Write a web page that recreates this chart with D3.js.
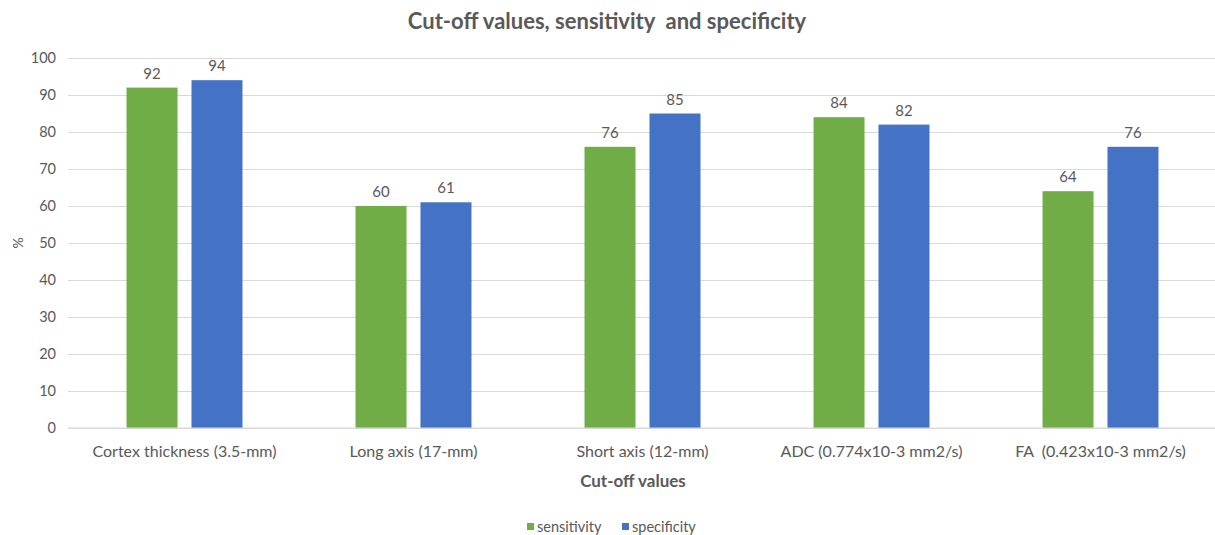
<!DOCTYPE html>
<html>
<head>
<meta charset="utf-8">
<script src="https://cdn.jsdelivr.net/npm/d3@7"></script>
<style>
  html, body { margin: 0; padding: 0; background: #fff; }
  svg { display: block; font-family: Lato, "Open Sans", sans-serif; }
</style>
</head>
<body>
<svg id="chart" width="1215" height="535"></svg>
<script>
const categories = [
  "Cortex thickness (3.5-mm)",
  "Long axis (17-mm)",
  "Short axis (12-mm)",
  "ADC (0.774x10-3 mm2/s)",
  "FA  (0.423x10-3 mm2/s)"
];
const sensitivity = [92, 60, 76, 84, 64];
const specificity = [94, 61, 85, 82, 76];
const seriesNames = ["sensitivity", "specificity"];
const seriesColors = ["#70AD47", "#4472C4"];
const yTicks = [0, 10, 20, 30, 40, 50, 60, 70, 80, 90, 100];

const svg = d3.select("#chart");
const margin = { left: 70, right: 0, top: 58, bottom: 107 };
const W = 1215, H = 535;
const textColor = "#595959";

const x = d3.scaleBand().domain(categories).range([margin.left, W - margin.right]);
const xs = d3.scaleBand().domain(seriesNames).range([0, x.bandwidth()]).paddingInner(0.215).paddingOuter(0.87);
const y = d3.scaleLinear().domain([0, 100]).range([H - margin.bottom, margin.top]);

// horizontal gridlines with tick labels
const yAxis = d3.axisLeft(y).tickValues(yTicks).tickSize(-(W - margin.left + 2)).tickPadding(12);
const gy = svg.append("g").attr("transform", `translate(${margin.left - 2},0)`).call(yAxis);
gy.select(".domain").remove();
gy.selectAll(".tick line").attr("stroke", "#d9d9d9").attr("stroke-width", 1);
gy.selectAll(".tick text").attr("fill", textColor).attr("font-size", 14.5).attr("font-family", "Lato, sans-serif");

// grouped bars
const rows = categories.map((c, i) => ({ cat: c, values: [sensitivity[i], specificity[i]] }));
const groups = svg.append("g").selectAll("g").data(rows).join("g")
  .attr("transform", d => `translate(${x(d.cat)},0)`);
const cells = d => d.values.map((v, j) => ({ s: seriesNames[j], v, j }));
groups.selectAll("rect").data(cells).join("rect")
  .attr("x", d => xs(d.s))
  .attr("width", xs.bandwidth())
  .attr("y", d => y(d.v))
  .attr("height", d => y(0) - y(d.v))
  .attr("fill", d => seriesColors[d.j]);
groups.selectAll("text").data(cells).join("text")
  .attr("x", d => xs(d.s) + xs.bandwidth() / 2)
  .attr("y", d => y(d.v) - 9)
  .attr("text-anchor", "middle")
  .attr("fill", textColor)
  .attr("font-size", 15)
  .text(d => d.v);

// x axis baseline and category labels
const xAxis = d3.axisBottom(x).tickSize(0).tickPadding(18);
const gx = svg.append("g").attr("transform", `translate(0,${y(0)})`).call(xAxis);
gx.select(".domain").attr("stroke", "#d9d9d9").attr("d", `M${margin.left - 2},0H${W}`);
gx.selectAll(".tick text").attr("fill", textColor).attr("font-size", 16).attr("font-family", "Lato, sans-serif").style("white-space", "pre");

// title
svg.append("text").attr("x", 607).attr("y", 29).attr("text-anchor", "middle")
  .attr("fill", textColor).attr("font-size", 22).attr("font-weight", "bold")
  .style("white-space", "pre")
  .text("Cut-off values, sensitivity  and specificity");

// axis titles
svg.append("text").attr("x", 633).attr("y", 487).attr("text-anchor", "middle")
  .attr("fill", textColor).attr("font-size", 17).attr("font-weight", "bold")
  .text("Cut-off values");
svg.append("text").attr("transform", "translate(23,243) rotate(-90)").attr("text-anchor", "middle")
  .attr("fill", textColor).attr("font-size", 14).text("%");

// legend
const legend = svg.append("g").attr("transform", "translate(527,527)");
const items = legend.selectAll("g").data(seriesNames).join("g")
  .attr("transform", (d, i) => `translate(${i * 95},0)`);
items.append("rect").attr("x", 0).attr("y", -4).attr("width", 7).attr("height", 7)
  .attr("fill", (d, i) => seriesColors[i]);
items.append("text").attr("x", 10).attr("y", 5).attr("fill", textColor)
  .attr("font-size", 14.5).text(d => d);
</script>
</body>
</html>
